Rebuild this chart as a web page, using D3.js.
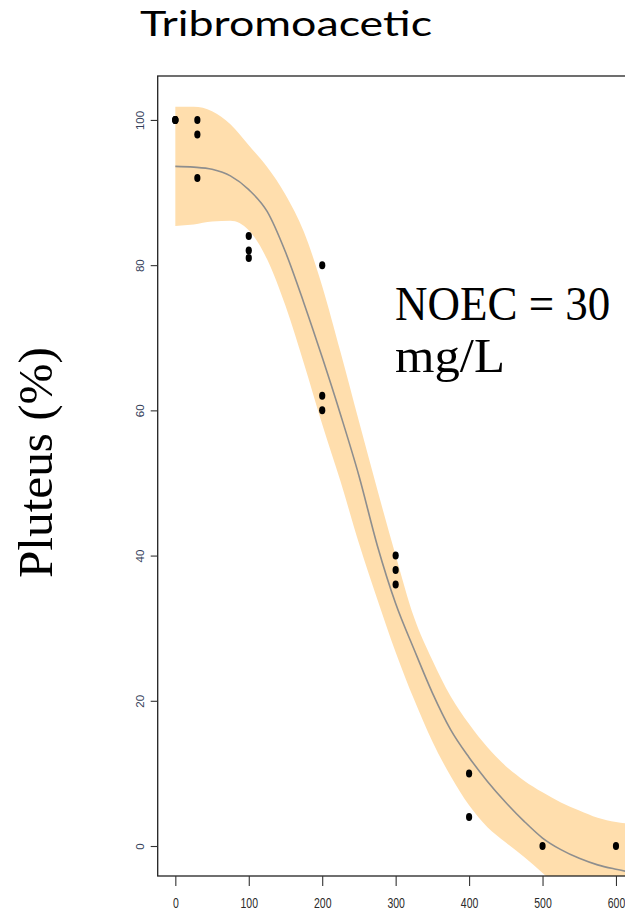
<!DOCTYPE html>
<html>
<head>
<meta charset="utf-8">
<script src="https://cdn.jsdelivr.net/npm/d3@7"></script>
<style>
  html, body { margin: 0; padding: 0; background: #fff; }
  svg { display: block; }
</style>
</head>
<body>
<svg id="chart" width="625" height="914"></svg>
<script>
// ---- Data ----
const doses   = [0, 0, 0, 30, 30, 30, 100, 100, 100, 200, 200, 200, 300, 300, 300, 400, 400, 500, 600];
const pluteus = [100, 100, 100, 100, 98, 92, 84, 82, 81, 80, 62, 60, 40, 38, 36, 10, 4, 0, 0];

// fitted curve and confidence band, read along the dose axis
const curveDose = [0, 25, 50, 75, 100, 125, 150, 175, 200, 225, 250, 275, 300, 325, 350, 375, 400, 425, 450, 475, 500, 525, 550, 575, 600, 625];
const fitValue  = [93.6, 93.5, 93.2, 92.3, 90.4, 87.4, 81.8, 74.8, 67.3, 59.4, 51.0, 41.4, 33.4, 27.1, 21.1, 16.0, 12.2, 8.9, 6.0, 3.4, 1.1, -0.5, -1.7, -2.6, -3.2, -3.7];
const upperBand = [101.8, 101.8, 101.2, 99.4, 96.5, 93.5, 89.7, 84.6, 77.1, 68.0, 58.5, 49.1, 40.0, 31.5, 25.6, 20.6, 16.8, 13.6, 11.0, 9.0, 7.4, 6.0, 4.9, 3.9, 3.3, 3.0];
const lowerBand = [85.4, 85.6, 86.0, 86.1, 84.8, 80.8, 74.4, 66.5, 58.1, 50.2, 41.7, 34.0, 26.7, 20.2, 14.4, 9.6, 5.6, 2.6, 0.5, -1.5, -3.7, -6.0, -8.0, -10.0, -12.0, -14.0];

const xTicks = [0, 100, 200, 300, 400, 500, 600];
const yTicks = [0, 20, 40, 60, 80, 100];

const titleText = "Tribromoacetic";
const yLabel = "Pluteus (%)";
const noteLines = ["NOEC = 30", "mg/L"];

// ---- Layout ----
const plot = { left: 157.7, right: 633.6, top: 76, bottom: 876 };

const svg = d3.select("#chart");

const x = d3.scaleLinear().domain([-24, 624]).range([plot.left, plot.right]);
const y = d3.scaleLinear().domain([-4.13, 106.05]).range([plot.bottom, plot.top]);

svg.append("defs").append("clipPath").attr("id", "plotClip")
  .append("rect")
  .attr("x", plot.left).attr("y", plot.top)
  .attr("width", plot.right - plot.left).attr("height", plot.bottom - plot.top);

const bandData = curveDose.map((d, i) => ({ d, lo: lowerBand[i], hi: upperBand[i], f: fitValue[i] }));

const g = svg.append("g").attr("clip-path", "url(#plotClip)");

g.append("path")
  .datum(bandData)
  .attr("fill", "#ffdead")
  .attr("d", d3.area()
    .x(p => x(p.d))
    .y0(p => y(p.lo))
    .y1(p => y(p.hi))
    .curve(d3.curveMonotoneX));

g.append("path")
  .datum(bandData)
  .attr("fill", "none")
  .attr("stroke", "#8e8e8e")
  .attr("stroke-width", 1.6)
  .attr("d", d3.line()
    .x(p => x(p.d))
    .y(p => y(p.f))
    .curve(d3.curveMonotoneX));

g.selectAll("ellipse.pt")
  .data(doses.map((d, i) => ({ d, v: pluteus[i] })))
  .join("ellipse")
  .attr("class", "pt")
  .attr("cx", p => x(p.d))
  .attr("cy", p => y(p.v))
  .attr("rx", 3.1)
  .attr("ry", 4.0)
  .attr("fill", "#000");

// box
svg.append("rect")
  .attr("x", plot.left).attr("y", plot.top)
  .attr("width", plot.right - plot.left).attr("height", plot.bottom - plot.top)
  .attr("fill", "none").attr("stroke", "#222").attr("stroke-width", 1.3);

// x axis
const xAxis = svg.append("g")
  .attr("transform", `translate(0,${plot.bottom})`)
  .call(d3.axisBottom(x).tickValues(xTicks).tickSize(10).tickFormat(d3.format("d")));
xAxis.select(".domain").remove();
xAxis.selectAll(".tick line").attr("stroke", "#333").attr("stroke-width", 1.1);
xAxis.selectAll(".tick text")
  .attr("y", 0).attr("dy", 0)
  .attr("transform", "translate(0,32) scale(1,1.45)")
  .attr("font-family", "'Liberation Sans', Arial, sans-serif")
  .attr("font-size", 10.5)
  .attr("fill", "#2a2a2a");

// y axis
const yAxis = svg.append("g")
  .attr("transform", `translate(${plot.left},0)`)
  .call(d3.axisLeft(y).tickValues(yTicks).tickSize(7).tickFormat(d3.format("d")));
yAxis.select(".domain").remove();
yAxis.selectAll(".tick line").attr("stroke", "#333").attr("stroke-width", 1.1);
yAxis.selectAll(".tick text")
  .attr("x", 0).attr("dy", 0)
  .attr("transform", "translate(-14,0) rotate(-90)")
  .attr("text-anchor", "middle")
  .attr("font-family", "'Liberation Sans', Arial, sans-serif")
  .attr("font-size", 11.5)
  .attr("fill", "#34405a");

// title
svg.append("text")
  .attr("x", 140).attr("y", 36)
  .attr("font-family", "Lato, 'Open Sans', sans-serif")
  .attr("font-weight", 400)
  .attr("font-size", 35)
  .attr("textLength", 292)
  .attr("lengthAdjust", "spacingAndGlyphs")
  .attr("fill", "#000")
  .text(titleText);

// y label
svg.append("text")
  .attr("transform", "translate(51.7,462.5) rotate(-90)")
  .attr("text-anchor", "middle")
  .attr("font-family", "'Liberation Serif', 'Times New Roman', serif")
  .attr("font-size", 49)
  .attr("textLength", 231)
  .attr("lengthAdjust", "spacingAndGlyphs")
  .attr("fill", "#000")
  .text(yLabel);

// annotation
const noteY = [320, 371.7];
noteLines.forEach((t, i) => {
  const tx = svg.append("text")
    .attr("transform", `translate(395,${noteY[i]}) scale(1,1.1)`)
    .attr("x", 0).attr("y", 0)
    .attr("font-family", "'Liberation Serif', 'Times New Roman', serif")
    .attr("font-size", 45)
    .attr("fill", "#000")
    .text(t);
  if (i === 1) tx.attr("textLength", 110).attr("lengthAdjust", "spacingAndGlyphs");
});
</script>
</body>
</html>
